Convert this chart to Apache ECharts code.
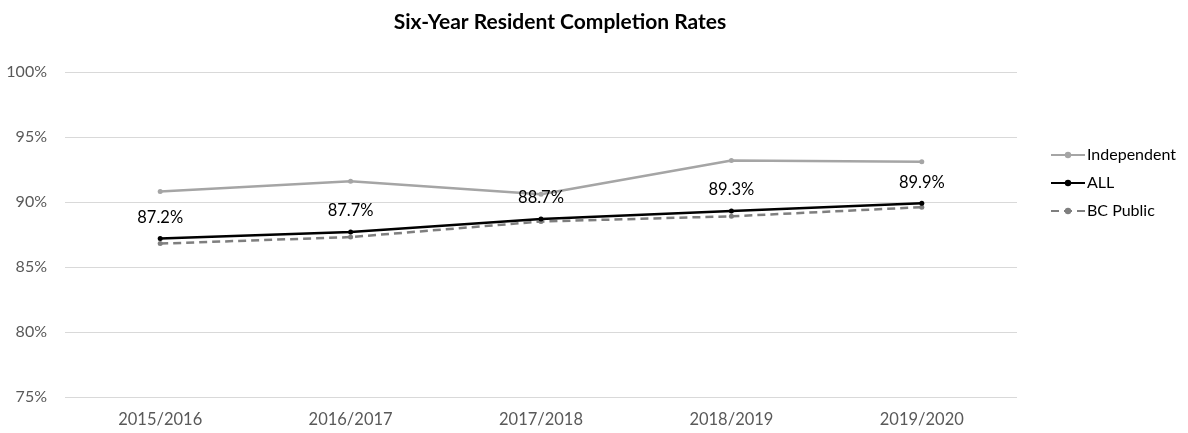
<!DOCTYPE html>
<html>
<head>
<meta charset="utf-8">
<script src="https://cdn.jsdelivr.net/npm/echarts@6/dist/echarts.min.js"></script>
<style>
  html, body { margin: 0; padding: 0; background: #fff; }
  #chart { width: 1188px; height: 433px; }
</style>
</head>
<body>
<div id="chart"></div>
<script>
// data
var years = ['2015/2016', '2016/2017', '2017/2018', '2018/2019', '2019/2020'];
var independent = [90.8, 91.6, 90.6, 93.2, 93.1];
var allRates = [87.2, 87.7, 88.7, 89.3, 89.9];
var bcPublic = [86.8, 87.3, 88.5, 88.9, 89.6];

var font = 'Lato, "Open Sans", sans-serif';

var myChart = echarts.init(document.getElementById('chart'));
var option = {
    animation: false,
    textStyle: {fontFamily: font},
    title: {
        text: 'Six-Year Resident Completion Rates',
        left: 555,
        textAlign: 'center',
        top: 7,
        textStyle: {fontFamily: font, fontSize: 21, fontWeight: 'bold', color: '#000'}
    },
    legend: {
        orient: 'vertical',
        left: 1045,
        top: 142,
        itemWidth: 34,
        itemHeight: 8,
        itemGap: 12,
        textStyle: {fontFamily: font, fontSize: 16, color: '#000', padding: [0, 0, 0, -3]},
        data: ['Independent', 'ALL', 'BC Public']
    },
    grid: {left: 65, right: 171, top: 72, bottom: 36},
    xAxis: {
        type: 'category',
        data: years,
        axisLine: {show: false},
        axisTick: {show: false},
        axisLabel: {fontFamily: font, fontSize: 16.5, color: '#595959', margin: 14}
    },
    yAxis: {
        type: 'value',
        min: 75,
        max: 100,
        interval: 5,
        axisLine: {show: false},
        axisTick: {show: false},
        axisLabel: {fontFamily: font, fontSize: 16, color: '#595959', margin: 18, formatter: '{value}%'},
        splitLine: {lineStyle: {color: '#d9d9d9', width: 1}}
    },
    series: [
        {
            name: 'Independent',
            type: 'line',
            data: independent,
            symbol: 'circle',
            symbolSize: 5,
            itemStyle: {color: '#a5a5a5'},
            lineStyle: {color: '#a5a5a5', width: 2.5}
        },
        {
            name: 'BC Public',
            type: 'line',
            data: bcPublic,
            symbol: 'circle',
            symbolSize: 5,
            itemStyle: {color: '#7f7f7f'},
            lineStyle: {color: '#7f7f7f', width: 2.5, type: [8, 5]}
        },
        {
            name: 'ALL',
            type: 'line',
            data: allRates,
            symbol: 'circle',
            symbolSize: 5,
            itemStyle: {color: '#000'},
            lineStyle: {color: '#000', width: 2.5},
            label: {
                show: true,
                position: 'top',
                distance: 10,
                fontFamily: font,
                fontSize: 16.5,
                color: '#000',
                formatter: function (p) { return p.value.toFixed(1) + '%'; }
            }
        }
    ]
};
myChart.setOption(option);
</script>
</body>
</html>
